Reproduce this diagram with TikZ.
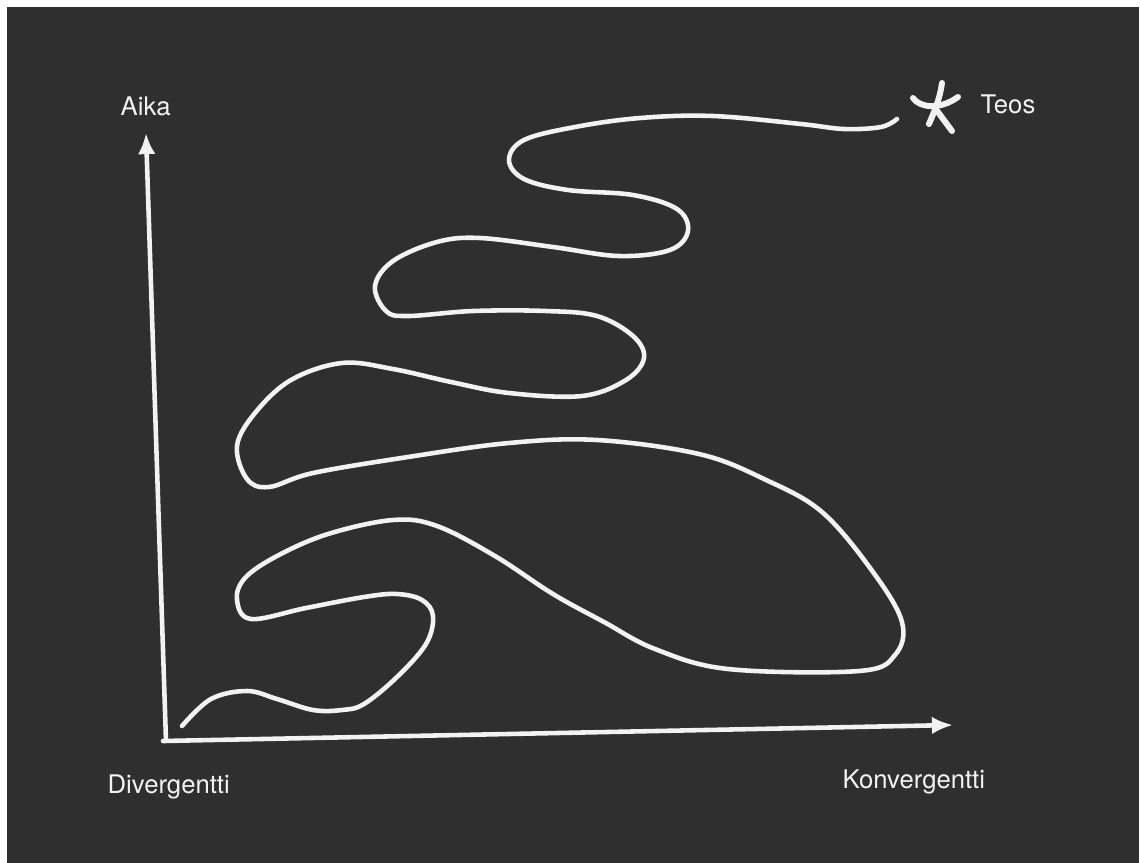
\documentclass[tikz,border=0pt]{standalone}
\usepackage{fontspec}
\setmainfont{TeX Gyre Heros}
\usepackage{tikz}
\usetikzlibrary{arrows.meta,positioning,calc}

\definecolor{taulu}{RGB}{47,47,47}
\definecolor{liitu}{RGB}{242,242,242}
\tikzset{
  akseli/.style={draw=liitu,line width=1.3pt,line cap=round,-{Latex[length=6pt,width=5pt]}},
  polku/.style={draw=liitu,line width=1.3pt,line cap=round},
  nimi/.style={text=liitu,font=\fontsize{7.3}{8}\selectfont,inner sep=0pt,anchor=base west}
}

\begin{document}
\begin{tikzpicture}[x=0.01cm,y=-0.01cm]
  \fill[white] (0,0) rectangle (1141,863); % 紙の余白
  \fill[taulu] (7,7) rectangle (1139,863); % 黒板の背景
  \useasboundingbox (0,0) rectangle (1141,863);

  \coordinate (o) at (166,741); % 原点
  \coordinate (ytip) at (146,133); % 縦軸の先
  \coordinate (xtip) at (953,725); % 横軸の先
  \draw[akseli] (o) -- (ytip); % 時間の軸
  \draw[akseli] ($(o)+(-3,0)$) -- (xtip); % 発散から収束への軸

  \node[nimi] (aika) at (120,115) {Aika};
  \node[nimi] (teos) at (980,113) {Teos};
  \node[nimi] (div) at (107,793) {Divergentti};
  \node[nimi] (konv) at (842,788) {Konvergentti};

  % 蛇行する線（原点から作品まで）
  \draw[polku] plot[smooth,tension=0.6] coordinates {
    (182,726) (211,699) (247,691) (277,699) (313,710) (342,710) (364,704)
    (397,677) (426,644) (433,616) (422,600) (397,594) (364,597) (306,608)
    (251,619) (237,600) (245,578) (277,556) (328,534) (393,520) (437,526)
    (495,556) (553,594) (604,622) (655,649) (728,669) (859,671) (895,655)
    (902,622) (873,572) (822,512) (764,479) (699,454) (597,440) (509,443)
    (408,457) (313,473) (269,487) (247,479) (237,446) (255,413) (291,380)
    (342,363) (393,369) (451,382) (509,393) (582,396) (626,380) (644,358)
    (633,336) (597,316) (546,311) (473,311) (408,316) (386,311) (375,286)
    (393,261) (437,242) (480,238) (553,247) (619,256) (670,250) (688,231)
    (677,209) (633,195) (568,190) (524,179) (509,160) (524,140) (575,127)
    (640,118) (713,116) (801,124) (844,129) (881,127) (897,119)};

  % 星印
  \coordinate (star) at (935,108);
  \draw[polku,line width=1.7pt] (913,98) .. controls (920,108) and (940,110) .. (958,97);
  \draw[polku,line width=1.7pt] (942,83) .. controls (940,98) and (935,110) .. (929,124);
  \draw[polku,line width=1.7pt] (star) -- (952,131);
\end{tikzpicture}
\end{document}
